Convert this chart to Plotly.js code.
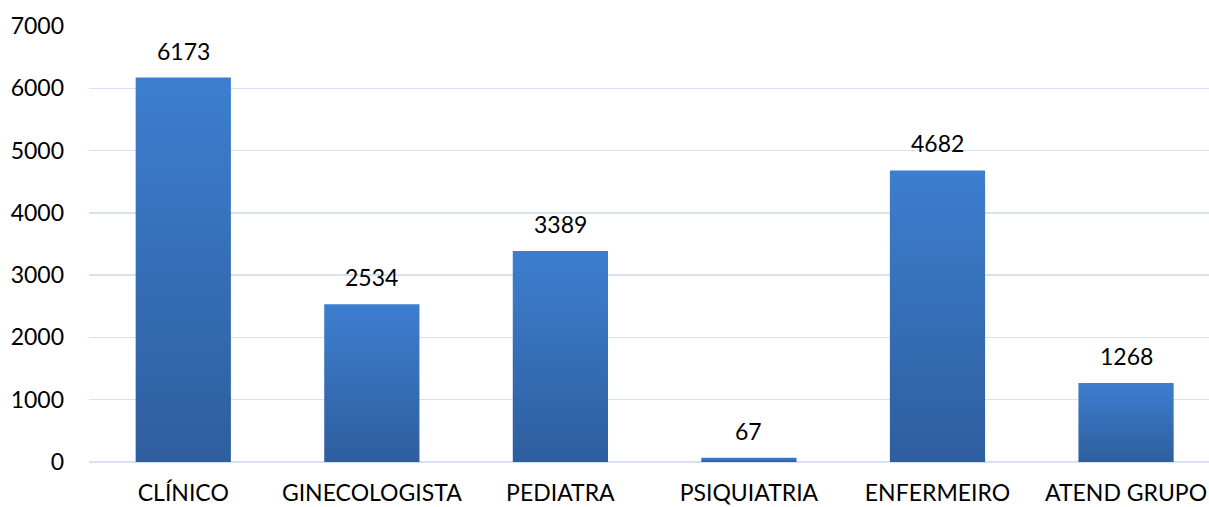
<!DOCTYPE html>
<html>
<head>
<meta charset="utf-8">
<script src="https://cdn.plot.ly/plotly-3.0.1.min.js"></script>
<style>
  html, body { margin: 0; padding: 0; background: #fff; }
  #chart { width: 1209px; height: 507px; }
</style>
</head>
<body>
<div id="chart"></div>
<svg width="0" height="0" style="position:absolute">
  <defs>
    <linearGradient id="barGrad" x1="0" y1="0" x2="0" y2="1">
      <stop offset="0%" stop-color="#3d7ecf"/>
      <stop offset="100%" stop-color="#2e5e9e"/>
    </linearGradient>
  </defs>
</svg>
<script>
const categories = ["CLÍNICO", "GINECOLOGISTA", "PEDIATRA", "PSIQUIATRIA", "ENFERMEIRO", "ATEND GRUPO"];
const values = [6173, 2534, 3389, 67, 4682, 1268];
const yTicks = [0, 1000, 2000, 3000, 4000, 5000, 6000, 7000];

const FONT = "Lato, 'Open Sans', sans-serif";
const FS = 23;

const trace = {
  type: "bar",
  x: categories,
  y: values,
  width: 0.505,
  marker: { color: "#3670b8", line: { width: 0 } },
  hoverinfo: "none"
};

const annotations = categories.map((c, i) => ({
  x: c,
  y: values[i],
  text: String(values[i]),
  showarrow: false,
  yanchor: "middle",
  yshift: 27,
  font: { family: FONT, size: FS, color: "#000" }
}));

const layout = {
  width: 1209,
  height: 507,
  margin: { l: 89, r: 0, t: 26, b: 45 },
  paper_bgcolor: "#fff",
  plot_bgcolor: "#fff",
  showlegend: false,
  font: { family: FONT, size: FS, color: "#000" },
  xaxis: {
    type: "category",
    range: [-0.5, 5.44],
    showgrid: false,
    zeroline: false,
    showline: false,
    ticks: "",
    ticklabelstandoff: 15,
    tickfont: { family: FONT, size: FS, color: "#000" }
  },
  yaxis: {
    range: [0, 7000],
    tickvals: yTicks,
    ticktext: yTicks.map(String),
    showgrid: true,
    gridcolor: "#d6e1f1",
    gridwidth: 1.5,
    zeroline: true,
    zerolinecolor: "#d6e1f1",
    zerolinewidth: 1.5,
    showline: false,
    ticks: "",
    ticklabelstandoff: 24,
    tickfont: { family: FONT, size: FS, color: "#000" }
  },
  annotations: annotations
};

Plotly.newPlot("chart", [trace], layout, { displayModeBar: false, staticPlot: true }).then(() => {
  document.querySelectorAll("#chart .bars path").forEach(p => {
    p.style.fill = "url(#barGrad)";
  });
});
</script>
</body>
</html>
